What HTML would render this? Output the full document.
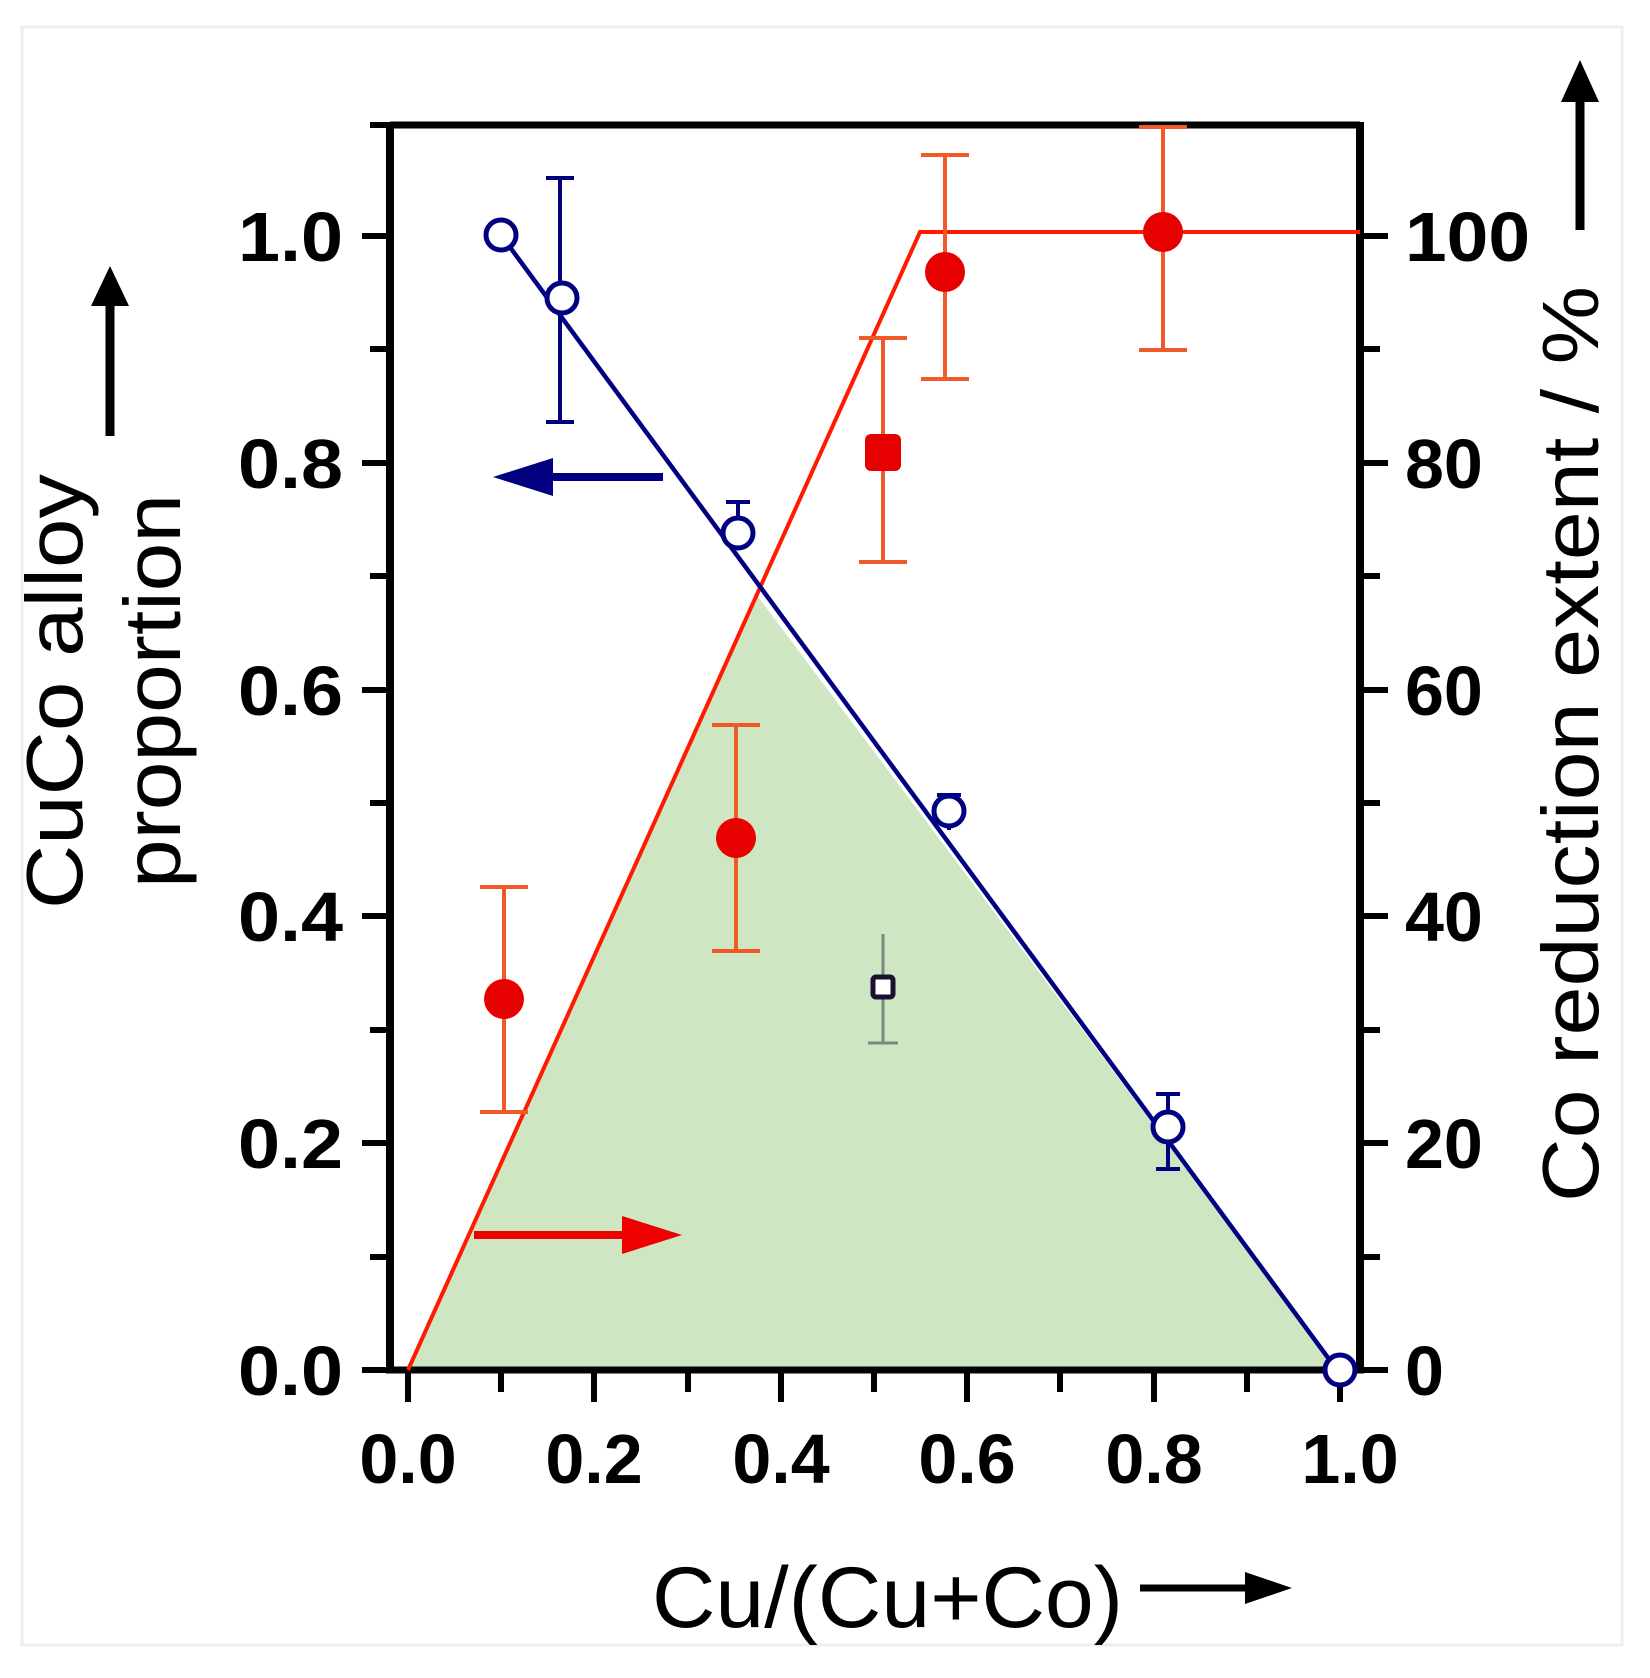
<!DOCTYPE html>
<html><head><meta charset="utf-8"><style>html,body{margin:0;padding:0;background:#fff}svg{display:block}</style></head>
<body>
<svg width="1650" height="1678" viewBox="0 0 1650 1678" xmlns="http://www.w3.org/2000/svg" font-family="Liberation Sans, Arial, sans-serif">
<rect x="0" y="0" width="1650" height="1678" fill="#fff"/>
<rect x="22" y="27" width="1600" height="1618" fill="none" stroke="#eeeeee" stroke-width="3"/>
<!-- green fill -->
<polygon points="408,1370 756,594 1337,1370" fill="#cfe6c3"/>
<!-- axes -->
<g stroke="#000" fill="none">
<line x1="390" y1="125" x2="1360" y2="125" stroke-width="7"/>
<line x1="390" y1="122" x2="390" y2="1373" stroke-width="8"/>
<line x1="1360" y1="122" x2="1360" y2="1373" stroke-width="8"/>
<line x1="386" y1="1370" x2="1364" y2="1370" stroke-width="7"/>
<!-- left ticks -->
<g stroke-width="6">
<line x1="362" y1="1370" x2="390" y2="1370"/><line x1="370" y1="1257" x2="390" y2="1257"/>
<line x1="362" y1="1143" x2="390" y2="1143"/><line x1="370" y1="1030" x2="390" y2="1030"/>
<line x1="362" y1="916" x2="390" y2="916"/><line x1="370" y1="803" x2="390" y2="803"/>
<line x1="362" y1="690" x2="390" y2="690"/><line x1="370" y1="576" x2="390" y2="576"/>
<line x1="362" y1="463" x2="390" y2="463"/><line x1="370" y1="349" x2="390" y2="349"/>
<line x1="362" y1="236" x2="390" y2="236"/><line x1="370" y1="125" x2="390" y2="125"/>
<!-- right ticks -->
<line x1="1360" y1="1370" x2="1388" y2="1370"/><line x1="1360" y1="1257" x2="1380" y2="1257"/>
<line x1="1360" y1="1143" x2="1388" y2="1143"/><line x1="1360" y1="1030" x2="1380" y2="1030"/>
<line x1="1360" y1="916" x2="1388" y2="916"/><line x1="1360" y1="803" x2="1380" y2="803"/>
<line x1="1360" y1="690" x2="1388" y2="690"/><line x1="1360" y1="576" x2="1380" y2="576"/>
<line x1="1360" y1="463" x2="1388" y2="463"/><line x1="1360" y1="349" x2="1380" y2="349"/>
<line x1="1360" y1="236" x2="1388" y2="236"/>
<!-- bottom ticks -->
<line x1="408" y1="1370" x2="408" y2="1402"/><line x1="501" y1="1370" x2="501" y2="1392"/>
<line x1="594" y1="1370" x2="594" y2="1402"/><line x1="688" y1="1370" x2="688" y2="1392"/>
<line x1="781" y1="1370" x2="781" y2="1402"/><line x1="874" y1="1370" x2="874" y2="1392"/>
<line x1="967" y1="1370" x2="967" y2="1402"/><line x1="1060" y1="1370" x2="1060" y2="1392"/>
<line x1="1154" y1="1370" x2="1154" y2="1402"/><line x1="1247" y1="1370" x2="1247" y2="1392"/>
<line x1="1340" y1="1370" x2="1340" y2="1402"/>
</g>
</g>
<!-- tick labels -->
<g font-weight="bold" font-size="70" fill="#000" text-anchor="end">
<text x="343" y="1395" textLength="105" lengthAdjust="spacingAndGlyphs">0.0</text>
<text x="343" y="1168" textLength="105" lengthAdjust="spacingAndGlyphs">0.2</text>
<text x="343" y="941" textLength="105" lengthAdjust="spacingAndGlyphs">0.4</text>
<text x="343" y="715" textLength="105" lengthAdjust="spacingAndGlyphs">0.6</text>
<text x="343" y="488" textLength="105" lengthAdjust="spacingAndGlyphs">0.8</text>
<text x="343" y="261" textLength="105" lengthAdjust="spacingAndGlyphs">1.0</text>
</g>
<g font-weight="bold" font-size="70" fill="#000">
<text x="1405" y="1395">0</text>
<text x="1405" y="1168">20</text>
<text x="1405" y="941">40</text>
<text x="1405" y="715">60</text>
<text x="1405" y="488">80</text>
<text x="1405" y="261" textLength="125" lengthAdjust="spacingAndGlyphs">100</text>
</g>
<g font-weight="bold" font-size="70" fill="#000" text-anchor="middle">
<text x="408" y="1483">0.0</text><text x="594" y="1483">0.2</text><text x="781" y="1483">0.4</text>
<text x="967" y="1483">0.6</text><text x="1154" y="1483">0.8</text><text x="1350" y="1483">1.0</text>
</g>
<!-- axis titles -->
<text x="652" y="1627" font-size="86" textLength="471" lengthAdjust="spacingAndGlyphs">Cu/(Cu+Co)</text>
<line x1="1140" y1="1588" x2="1250" y2="1588" stroke="#000" stroke-width="7"/>
<polygon points="1245,1572 1292,1588 1245,1604" fill="#000"/>
<text transform="translate(82,909) rotate(-90)" font-size="80" textLength="435" lengthAdjust="spacingAndGlyphs">CuCo alloy</text>
<text transform="translate(180,888) rotate(-90)" font-size="80" textLength="394" lengthAdjust="spacingAndGlyphs">proportion</text>
<line x1="110" y1="436" x2="110" y2="300" stroke="#000" stroke-width="9"/>
<polygon points="91,306 110,266 129,306" fill="#000"/>
<text transform="translate(1598,1202) rotate(-90)" font-size="80" textLength="916" lengthAdjust="spacingAndGlyphs">Co reduction extent / %</text>
<line x1="1580" y1="230" x2="1580" y2="95" stroke="#000" stroke-width="9"/>
<polygon points="1561,102 1580,60 1599,102" fill="#000"/>
<!-- red line -->
<polyline points="408,1370 920,232 1360,232" fill="none" stroke="#ff1a00" stroke-width="4"/>
<!-- blue line -->
<line x1="501" y1="235" x2="1337" y2="1370" stroke="#000080" stroke-width="4.5"/>
<!-- legend arrows -->
<line x1="474" y1="1235" x2="630" y2="1235" stroke="#ee0000" stroke-width="8"/>
<polygon points="622,1216 682,1235 622,1254" fill="#ee0000"/>
<line x1="545" y1="477" x2="663" y2="477" stroke="#000080" stroke-width="8"/>
<polygon points="553,458 493,477 553,496" fill="#000080"/>
<!-- red error bars -->
<g stroke="#f05a28" stroke-width="4" fill="none">
<path d="M504,887V1112M480,887H528M480,1112H528"/>
<path d="M736,725V951M712,725H760M712,951H760"/>
<path d="M883,338V562M859,338H907M859,562H907"/>
<path d="M945,155V379M921,155H969M921,379H969"/>
<path d="M1163,127V350M1139,127H1187M1139,350H1187"/>
</g>
<g fill="#e60000">
<circle cx="504" cy="999" r="20"/>
<circle cx="736" cy="838" r="20"/>
<rect x="865" y="434" width="36" height="37" rx="6"/>
<circle cx="945" cy="272" r="20"/>
<circle cx="1163" cy="232" r="20"/>
</g>
<!-- blue error bars -->
<g stroke="#000080" stroke-width="4" fill="none">
<path d="M560,178V422M546,178H574M546,422H574"/>
<path d="M738,502V540M726,502H750"/>
<path d="M949,795V830M937,795H961"/>
<path d="M1168,1094V1169M1156,1094H1180M1156,1169H1180"/>
</g>
<path d="M883,934V1043M868,1043H898" stroke="#7a8a7a" stroke-width="3" fill="none"/>
<g fill="#fff" stroke="#000080" stroke-width="5">
<circle cx="501" cy="235" r="15"/>
<circle cx="562" cy="298" r="15"/>
<circle cx="738" cy="533" r="15"/>
<circle cx="949" cy="811" r="15"/>
<circle cx="1168" cy="1127" r="15"/>
<circle cx="1340" cy="1370" r="15"/>
</g>
<rect x="873" y="977" width="20" height="20" rx="3" fill="#fff" stroke="#1a1030" stroke-width="5"/>
</svg>
</body></html>
